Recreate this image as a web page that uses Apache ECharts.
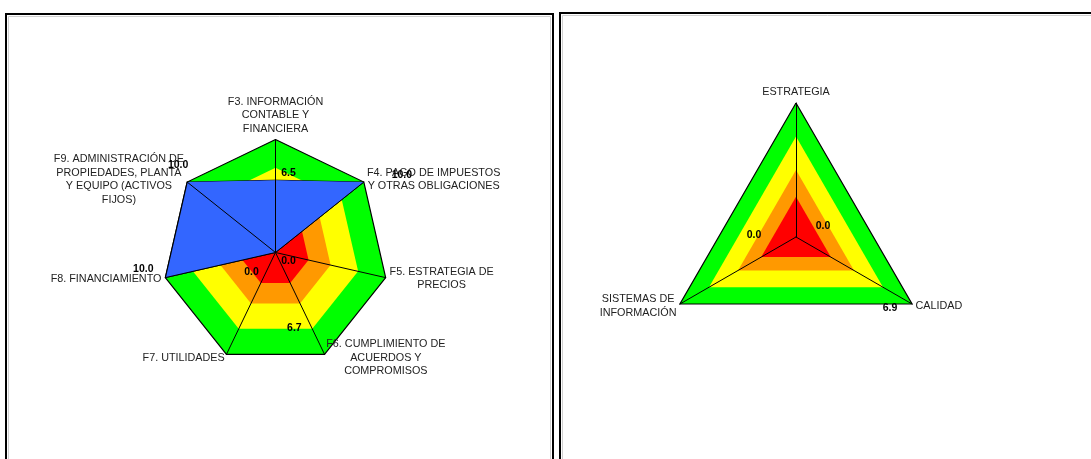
<!DOCTYPE html>
<html><head><meta charset="utf-8">
<script src="https://cdn.jsdelivr.net/npm/echarts@6/dist/echarts.min.js"></script>
<style>html,body{margin:0;padding:0;background:#fff}#c{width:1091px;height:459px}</style>
</head><body><div id="c"></div>
<script>
// ---- data (natural clockwise order, starting at top) ----
const leftCategories = [
  'F3. INFORMACIÓN\nCONTABLE Y\nFINANCIERA',
  'F4. PAGO DE IMPUESTOS\nY OTRAS OBLIGACIONES',
  'F5. ESTRATEGIA DE\nPRECIOS',
  'F6. CUMPLIMIENTO DE\nACUERDOS Y\nCOMPROMISOS',
  'F7. UTILIDADES',
  'F8. FINANCIAMIENTO',
  'F9. ADMINISTRACIÓN DE\nPROPIEDADES, PLANTA\nY EQUIPO (ACTIVOS\nFIJOS)'
];
const leftArea = [6.4, 10, 0, 0, 0, 10, 10];
const leftLabels = [6.5, 10.0, 0.0, 6.7, 0.0, 10.0, 10.0];
const rightCategories = ['ESTRATEGIA', 'CALIDAD', 'SISTEMAS DE\nINFORMACIÓN'];
const rightLabels = [0.0, 6.9, 0.0];
const bandLimits = [10, 7.5, 5, 3];
const axisMin = 0;
const axisMax = 10;

// ---- styles ----
const bandColors = ['#00ff00', '#ffff00', '#ff9900', '#ff0000'];
const leftLabelOffsets = [[13, -6], [38, -7], [13, 9], [-14, 7], [-24, 20], [-22, -9], [-9, -17]];
const rightLabelOffsets = [[27, -11], [14, 25], [-42, -2]];
const FONT = 'Liberation Sans, Arial, sans-serif';

function ccw(a) { return [a[0]].concat(a.slice(1).reverse()); }

function radarCfg(cats, center, radius) {
  return {
    center: center, radius: radius, startAngle: 90, shape: 'polygon', splitNumber: 1,
    z: 3, silent: true, axisNameGap: 4,
    indicator: ccw(cats).map(n => ({ name: n, min: axisMin, max: axisMax })),
    axisName: {
      color: '#222', fontSize: 10.8, fontFamily: FONT, lineHeight: 13.5,
      formatter: v => v.split('\n').map(l => '{c|' + l + '}').join('\n'),
      rich: { c: { align: 'center', fontSize: 10.8, lineHeight: 13.5, color: '#222', fontFamily: FONT } }
    },
    axisLine: { lineStyle: { color: '#000', width: 1 } },
    splitLine: { lineStyle: { color: '#000', width: 1.2 } },
    splitArea: { show: false },
    axisTick: { show: false },
    axisLabel: { show: false }
  };
}

function bandSeries(r, n) {
  return bandLimits.map((v, i) => ({
    type: 'radar', radarIndex: r, silent: true, symbol: 'none', z: 1,
    lineStyle: { width: 0, opacity: 0 },
    areaStyle: { color: bandColors[i], opacity: 1 },
    data: [{ value: new Array(n).fill(v) }]
  }));
}

function labelSeries(r, vals, offsets) {
  const n = vals.length;
  return vals.map((v, k) => {
    const dim = k === 0 ? 0 : n - k;
    return {
      type: 'radar', radarIndex: r, silent: true, z: 5,
      symbol: 'circle', symbolSize: 1,
      itemStyle: { color: 'rgba(0,0,0,0)' },
      lineStyle: { width: 0, opacity: 0 },
      label: {
        show: true, position: 'inside', offset: offsets[k],
        color: '#000', fontWeight: 'bold', fontSize: 10.5, fontFamily: FONT,
        formatter: p => p.dimensionIndex === dim ? Number(p.value).toFixed(1) : ''
      },
      data: [{ value: ccw(vals) }]
    };
  });
}

const series = []
  .concat(bandSeries(0, leftCategories.length))
  .concat([{
    type: 'radar', radarIndex: 0, silent: true, symbol: 'none', z: 2,
    lineStyle: { color: '#000', width: 1 },
    areaStyle: { color: '#3366ff', opacity: 1 },
    data: [{ value: ccw(leftArea) }]
  }])
  .concat(labelSeries(0, leftLabels, leftLabelOffsets))
  .concat(bandSeries(1, rightCategories.length))
  .concat(labelSeries(1, rightLabels, rightLabelOffsets));

const chart = echarts.init(document.getElementById('c'), null, { renderer: 'canvas' });
chart.setOption({
  animation: false,
  backgroundColor: '#fff',
  radar: [
    radarCfg(leftCategories, [275.5, 252.5], 113),
    radarCfg(rightCategories, [796, 237], 134)
  ],
  graphic: [
    { type: 'rect', silent: true, z: 10, shape: { x: 6, y: 14, width: 547, height: 470 }, style: { fill: null, stroke: '#000', lineWidth: 2 } },
    { type: 'rect', silent: true, z: 10, shape: { x: 8.5, y: 16.5, width: 542, height: 470 }, style: { fill: null, stroke: '#d0d0d0', lineWidth: 1 } },
    { type: 'rect', silent: true, z: 10, shape: { x: 560, y: 13, width: 545, height: 470 }, style: { fill: null, stroke: '#000', lineWidth: 2 } },
    { type: 'rect', silent: true, z: 10, shape: { x: 562.5, y: 15.5, width: 540, height: 470 }, style: { fill: null, stroke: '#d0d0d0', lineWidth: 1 } }
  ],
  series: series
});
</script></body></html>
